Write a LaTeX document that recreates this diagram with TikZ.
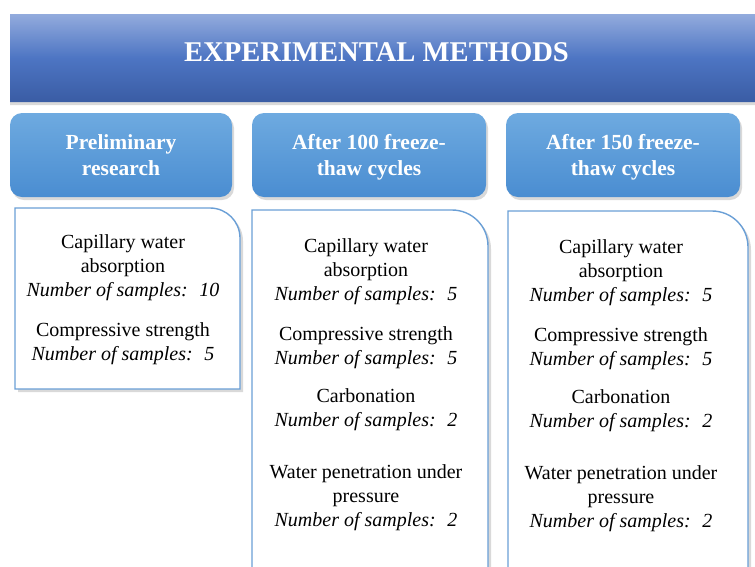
\documentclass[tikz,border=0pt]{standalone}
\usepackage{fontspec}
\setmainfont{Liberation Serif}
\usetikzlibrary{shadows}

\definecolor{bannertop}{HTML}{93ABDD}
\definecolor{bannermid}{HTML}{4D75C3}
\definecolor{bannerbot}{HTML}{3A5CA4}
\definecolor{headtop}{HTML}{6EAAE0}
\definecolor{headbot}{HTML}{4A8DD1}
\definecolor{panelline}{HTML}{6A9FD6}

\tikzset{
  banner/.style={top color=bannertop, bottom color=bannerbot, middle color=bannermid,
    drop shadow={opacity=0.3, shadow xshift=0pt, shadow yshift=-3pt}},
  head/.style={rounded corners=12pt, top color=headtop, bottom color=headbot,
    minimum width=222pt, minimum height=84pt, text=white, align=center,
    text depth=0pt, font=\fontsize{21.5}{26}\selectfont\bfseries,
    drop shadow={opacity=0.3, shadow xshift=2pt, shadow yshift=-3pt}},
  panel/.style={draw=panelline, line width=1.4pt, fill=white,
    drop shadow={opacity=0.3, shadow xshift=3pt, shadow yshift=-3pt}},
  info/.style={align=center, anchor=north, inner sep=0pt,
    font=\fontsize{20}{24}\selectfont},
}

\begin{document}
\begin{tikzpicture}[x=1pt, y=-1pt]
  \useasboundingbox (0,0) rectangle (755,566);
  \clip (0,0) rectangle (755,566);

  % naglowek
  \path[banner] (10,102) -- (10,14) [rounded corners=12pt] -- (775,14)
    [sharp corners] -- (775,102) -- cycle;
  \node[text=white, font=\fontsize{28.6}{30}\selectfont\bfseries] (title)
    at (376.5,52.5) {EXPERIMENTAL METHODS};

  % etapy badan
  \node[head] (prelim) at (121,155) {Preliminary\\research};
  \node[head, minimum width=234pt] (fc100) at (369,155) {After 100 freeze-\\thaw cycles};
  \node[head, minimum width=234pt] (fc150) at (623,155) {After 150 freeze-\\thaw cycles};

  % ramki z metodami
  \path[panel] (15,389) -- (15,208) [rounded corners=30pt] -- (240,208)
    [sharp corners] -- (240,389) -- cycle;
  \path[panel] (252,590) -- (252,210) [rounded corners=36pt] -- (488,210)
    [sharp corners] -- (488,590) -- cycle;
  \path[panel] (508,590) -- (508,211) [rounded corners=36pt] -- (748,211)
    [sharp corners] -- (748,590) -- cycle;

  % opisy
  \node[info] (prelimtxt) at (123,234.3) {Capillary water\\absorption\\
    \textit{Number of samples:~ 10}\\[16pt]
    Compressive strength\\\textit{Number of samples:~ 5}};
  \node[info] (fctxt) at (366,238.3) {Capillary water\\absorption\\
    \textit{Number of samples:~ 5}\\[16pt]
    Compressive strength\\\textit{Number of samples:~ 5}\\[14pt]
    Carbonation\\\textit{Number of samples:~ 2}\\[28pt]
    Water penetration under\\pressure\\\textit{Number of samples:~ 2}};
  \node[info] (fcbtxt) at (621,239.3) {Capillary water\\absorption\\
    \textit{Number of samples:~ 5}\\[16pt]
    Compressive strength\\\textit{Number of samples:~ 5}\\[14pt]
    Carbonation\\\textit{Number of samples:~ 2}\\[28pt]
    Water penetration under\\pressure\\\textit{Number of samples:~ 2}};
\end{tikzpicture}
\end{document}
